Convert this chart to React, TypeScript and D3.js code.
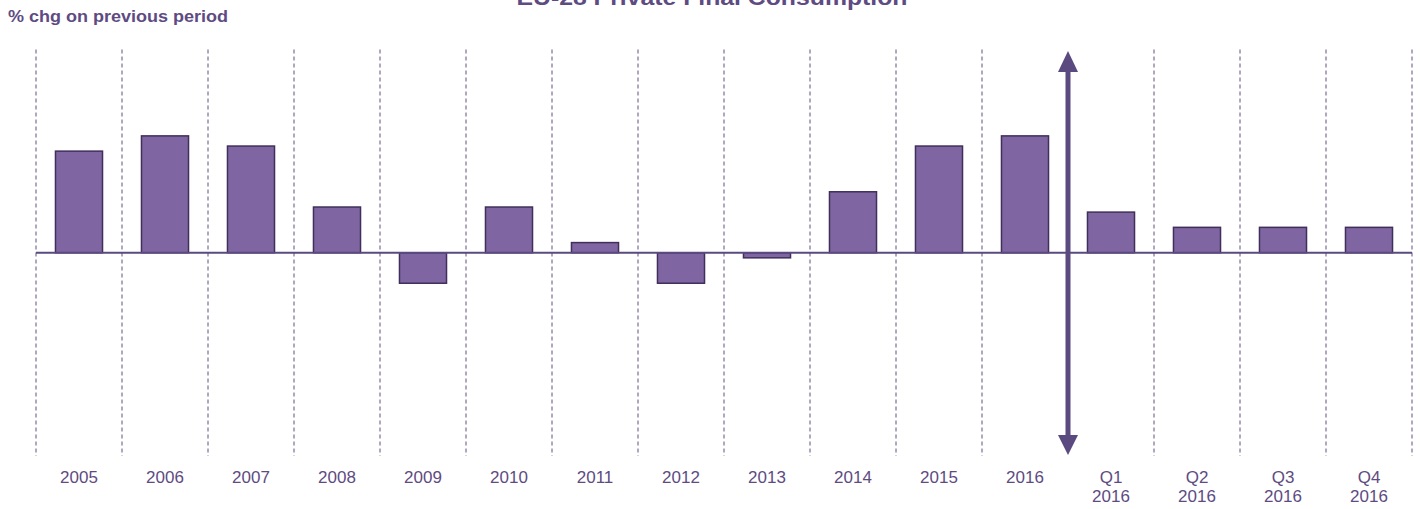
import React from "react";
import * as d3 from "d3";

const categories: string[] = ["2005","2006","2007","2008","2009","2010","2011","2012","2013","2014","2015","2016","Q1 2016","Q2 2016","Q3 2016","Q4 2016"];
const values: number[] = [2.0, 2.3, 2.1, 0.9, -0.6, 0.9, 0.2, -0.6, -0.1, 1.2, 2.1, 2.3, 0.8, 0.5, 0.5, 0.5];
const yDomain: [number, number] = [-4, 4];
const arrowAfterIndex = 12;

const W = 1420;
const H = 509;
const TEXT = "#5e4b82";
const FILL = "#7f65a1";
const STROKE = "#3f2f5a";
const AXIS = "#5b4a7f";
const GRID = "#5f5080";

export default function App() {
  const x = d3.scaleBand<string>().domain(categories).range([36, 1412]).paddingInner(0.453).paddingOuter(0.2265);
  const y = d3.scaleLinear().domain(yDomain).range([456, 49.5]);
  const step = x.step();
  const left = 36;
  const boundaries = d3.range(categories.length + 1).map((i) => left + step * i);
  const arrowX = left + step * arrowAfterIndex;
  const zeroY = y(0);
  const top = y(yDomain[1]);
  const bottom = y(yDomain[0]);

  return (
    <svg width={W} height={H} style={{ position: "absolute", left: 0, top: 0 }} fontFamily="'Liberation Sans', Arial, sans-serif">
      <rect x={0} y={0} width={W} height={H} fill="#fff" />
      <text x={712} y={4.5} textAnchor="middle" fontWeight="bold" fontSize={22} fill={TEXT} textLength={391} lengthAdjust="spacingAndGlyphs">EU-28 Private Final Consumption</text>
      <text x={8} y={22} fontWeight="bold" fontSize={16} fill={TEXT} textLength={220} lengthAdjust="spacingAndGlyphs">% chg on previous period</text>
      {boundaries.map((bx, i) =>
        i === arrowAfterIndex ? null : (
          <line key={i} x1={bx} x2={bx} y1={top} y2={bottom} stroke={GRID} strokeWidth={1} strokeDasharray="4,3" />
        )
      )}
      {categories.map((c, i) => {
        const v = values[i];
        const y0 = y(Math.max(0, v));
        const h = Math.abs(y(v) - y(0));
        return <rect key={c} x={x(c)} y={y0} width={x.bandwidth()} height={h} fill={FILL} stroke={STROKE} strokeWidth={1.5} />;
      })}
      <line x1={left} x2={left + step * categories.length} y1={zeroY} y2={zeroY} stroke={AXIS} strokeWidth={2} />
      <rect x={arrowX - 2.5} y={70} width={5} height={367} fill={AXIS} />
      <path d={`M${arrowX},51 L${arrowX - 10},72 L${arrowX + 10},72 Z`} fill={AXIS} />
      <path d={`M${arrowX},455 L${arrowX - 10},435 L${arrowX + 10},435 Z`} fill={AXIS} />
      {categories.map((c) => {
        const cx = (x(c) as number) + x.bandwidth() / 2;
        const parts = c.split(" ");
        return (
          <text key={c} x={cx} y={483} textAnchor="middle" fontSize={17} fill={TEXT}>
            {parts.map((p, j) => (
              <tspan key={j} x={cx} dy={j === 0 ? 0 : 19}>{p}</tspan>
            ))}
          </text>
        );
      })}
    </svg>
  );
}
